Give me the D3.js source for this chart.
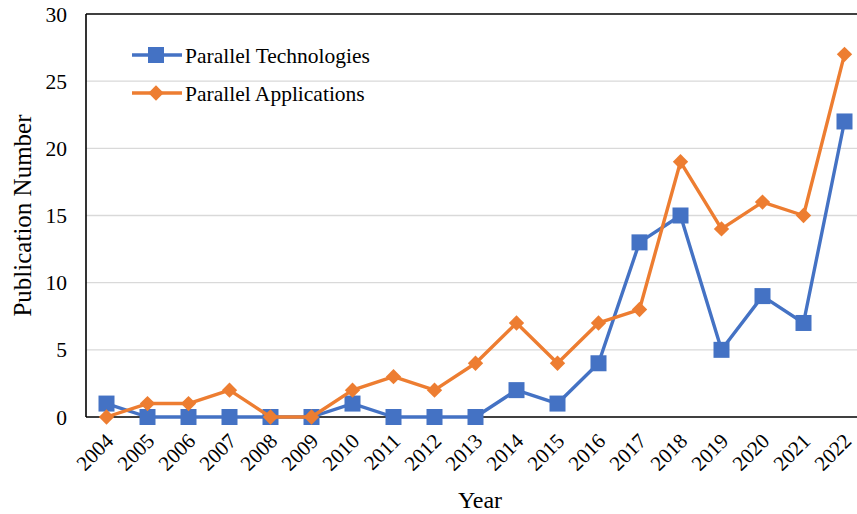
<!DOCTYPE html>
<html>
<head>
  <script src="https://d3js.org/d3.v7.min.js"></script>
  <style>
    body { margin: 0; background: #fff; }
    text { font-family: "Liberation Serif", "Times New Roman", serif; fill: #000; }
  </style>
</head>
<body>
  <div id="chart"></div>
  <script>
    // data
    var years = ["2004","2005","2006","2007","2008","2009","2010","2011","2012","2013",
                 "2014","2015","2016","2017","2018","2019","2020","2021","2022"];
    var techValues = [1,0,0,0,0,0,1,0,0,0,2,1,4,13,15,5,9,7,22];
    var appValues  = [0,1,1,2,0,0,2,3,2,4,7,4,7,8,19,14,16,15,27];
    var yTicks = [0,5,10,15,20,25,30];

    var W = 857, H = 514;
    var margin = { top: 14, right: -8, bottom: 97, left: 86 };
    var width = W - margin.left - margin.right,
        height = H - margin.top - margin.bottom;

    var svg = d3.select("#chart").append("svg")
      .attr("width", W).attr("height", H);
    var g = svg.append("g")
      .attr("transform", "translate(" + margin.left + "," + margin.top + ")");

    var x = d3.scaleBand().domain(years).range([0, width]);
    var y = d3.scaleLinear().domain([0, 30]).range([height, 0]);
    var cx = function(d, i) { return x(years[i]) + x.bandwidth() / 2; };

    // gridlines
    g.append("g").selectAll("line")
      .data(yTicks.filter(function(t) { return t > 0 && t < 30; }))
      .join("line")
      .attr("x1", 0).attr("x2", width)
      .attr("y1", function(d) { return y(d); })
      .attr("y2", function(d) { return y(d); })
      .attr("stroke", "#d9d9d9").attr("stroke-width", 1.3);

    // frame: left, top, bottom
    g.append("line").attr("x1", 0).attr("x2", 0).attr("y1", 0).attr("y2", height)
      .attr("stroke", "#000").attr("stroke-width", 1.6);
    g.append("line").attr("x1", 0).attr("x2", width).attr("y1", 0).attr("y2", 0)
      .attr("stroke", "#000").attr("stroke-width", 1.6);
    g.append("line").attr("x1", 0).attr("x2", width).attr("y1", height).attr("y2", height)
      .attr("stroke", "#000").attr("stroke-width", 1.6);

    // y tick labels
    g.append("g").selectAll("text")
      .data(yTicks).join("text")
      .attr("x", -19)
      .attr("y", function(d) { return y(d); })
      .attr("dy", "0.35em")
      .attr("text-anchor", "end")
      .style("font-size", "21.5px")
      .text(function(d) { return d; });

    // x tick labels rotated
    g.append("g").selectAll("text")
      .data(years).join("text")
      .attr("transform", function(d) {
        return "translate(" + (x(d) + x.bandwidth() / 2 + 3) + "," + (height + 20) + ") rotate(-45)";
      })
      .attr("text-anchor", "end")
      .attr("dy", "0.35em")
      .style("font-size", "21px")
      .text(function(d) { return d; });

    // axis titles
    svg.append("text")
      .attr("x", 480).attr("y", 508)
      .attr("text-anchor", "middle")
      .style("font-size", "24px")
      .text("Year");
    svg.append("text")
      .attr("transform", "translate(31," + (margin.top + height / 2) + ") rotate(-90)")
      .attr("text-anchor", "middle")
      .style("font-size", "25px")
      .text("Publication Number");

    var blue = "#4472c4", orange = "#ed7d31";
    var line = d3.line().x(cx).y(function(d) { return y(d); });

    // tech series
    g.append("path").datum(techValues)
      .attr("d", line).attr("fill", "none")
      .attr("stroke", blue).attr("stroke-width", 3.4).attr("stroke-linejoin", "round");
    g.append("g").selectAll("rect")
      .data(techValues).join("rect")
      .attr("x", function(d, i) { return cx(d, i) - 8; })
      .attr("y", function(d) { return y(d) - 8; })
      .attr("width", 16).attr("height", 16)
      .attr("fill", blue);

    // apps series
    g.append("path").datum(appValues)
      .attr("d", line).attr("fill", "none")
      .attr("stroke", orange).attr("stroke-width", 3.4).attr("stroke-linejoin", "round");
    var diamond = d3.symbol().type(d3.symbolDiamond2).size(150);
    g.append("g").selectAll("path")
      .data(appValues).join("path")
      .attr("transform", function(d, i) { return "translate(" + cx(d, i) + "," + y(d) + ")"; })
      .attr("d", diamond)
      .attr("fill", orange);

    // legend
    var legend = svg.append("g");
    var items = [
      { name: "Parallel Technologies", color: blue, shape: "square", y: 55 },
      { name: "Parallel Applications", color: orange, shape: "diamond", y: 93 }
    ];
    items.forEach(function(it) {
      legend.append("line")
        .attr("x1", 132).attr("x2", 182)
        .attr("y1", it.y).attr("y2", it.y)
        .attr("stroke", it.color).attr("stroke-width", 3.4);
      if (it.shape === "square") {
        legend.append("rect")
          .attr("x", 148).attr("y", it.y - 8)
          .attr("width", 16).attr("height", 16)
          .attr("fill", it.color);
      } else {
        legend.append("path")
          .attr("transform", "translate(156," + it.y + ")")
          .attr("d", diamond).attr("fill", it.color);
      }
      legend.append("text")
        .attr("x", 185).attr("y", it.y)
        .attr("dy", "0.35em")
        .style("font-size", "21.5px")
        .text(it.name);
    });
  </script>
</body>
</html>
